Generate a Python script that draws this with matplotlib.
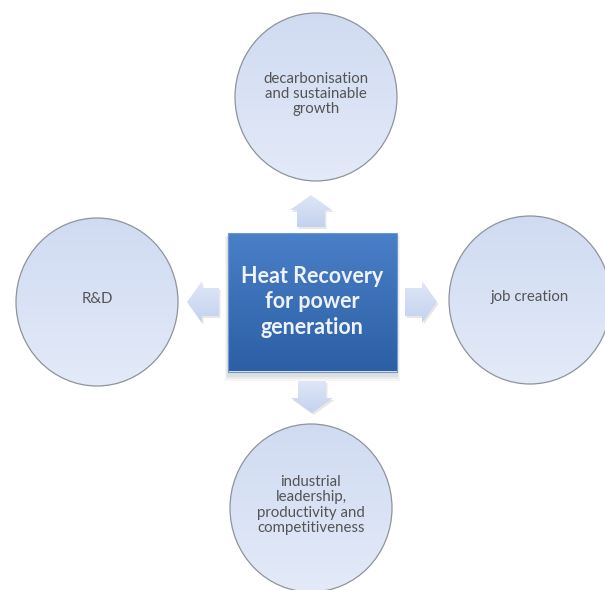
"""
Heat recovery diagram: central box with four linked benefit circles
"""

import numpy as np
import matplotlib
matplotlib.use('Agg')
import matplotlib.pyplot as plt
from matplotlib.patches import Ellipse, Rectangle, Polygon
from matplotlib.colors import LinearSegmentedColormap

# ── Content ────────────────────────────────────────────────────────────────────
center_label = 'Heat Recovery\nfor power\ngeneration'
node_labels = ['decarbonisation\nand sustainable\ngrowth',
               'job creation',
               'industrial\nleadership,\nproductivity and\ncompetitiveness',
               'R&D']
node_dirs = ['up', 'right', 'down', 'left']

# ── Layout (pixels, y downwards) ──────────────────────────────────────────────
W, H = 605, 590
cx, cy = 312, 302
box_w, box_h = 169, 139
circ_off = {'up': (4, -205), 'right': (218, -2), 'down': (-1, 206), 'left': (-215, 0)}
arrow_off = {'up': (-1, -91), 'right': (109, 0), 'down': (0, 95), 'left': (-109, 0)}
rx, ry = 81, 84

fig = plt.figure(figsize=(W / 100, H / 100), dpi=100)
ax = fig.add_axes([0, 0, 1, 1])
ax.set_xlim(0, W)
ax.set_ylim(H, 0)
ax.axis('off')


def grad_fill(patch, c_top, c_bot, y0, y1, x0=0, x1=W, z=1):
    cmap = LinearSegmentedColormap.from_list('g', [c_top, c_bot])
    g = np.linspace(0, 1, 256).reshape(-1, 1)
    im = ax.imshow(g, cmap=cmap, extent=(x0, x1, y1, y0), aspect='auto',
                   zorder=z, interpolation='bicubic')
    im.set_clip_path(patch)


def arrow_poly(x, y, d):
    # block arrow pointing in direction d, centred at (x, y)
    L, Wd, sw, hl = 32, 42, 28, 15   # length, head width, shaft width, head len
    pts = np.array([[-L / 2, -sw / 2], [L / 2 - hl, -sw / 2], [L / 2 - hl, -Wd / 2],
                    [L / 2, 0], [L / 2 - hl, Wd / 2], [L / 2 - hl, sw / 2],
                    [-L / 2, sw / 2]])
    rot = {'right': 0, 'down': 90, 'left': 180, 'up': 270}[d]
    t = np.deg2rad(rot)
    R = np.array([[np.cos(t), -np.sin(t)], [np.sin(t), np.cos(t)]])
    return pts @ R.T + [x, y]


# circles
for lab, d in zip(node_labels, node_dirs):
    ox, oy = circ_off[d]
    x, y = cx + ox, cy + oy
    e = Ellipse((x, y), 2 * rx, 2 * ry, facecolor='none', edgecolor='none')
    ax.add_patch(e)
    grad_fill(e, '#d0dbf2', '#e3eaf8', y - ry, y + ry, x - rx, x + rx, z=1)
    ax.add_patch(Ellipse((x, y), 2 * rx, 2 * ry, facecolor='none',
                         edgecolor='#8f939b', lw=0.9, zorder=2))
    ax.text(x, y - 3, lab, ha='center', va='center', fontsize=10.8,
            family='Lato', color='#545454', linespacing=1.13, zorder=3)

# arrows
for d in node_dirs:
    ox, oy = arrow_off[d]
    pts = arrow_poly(cx + ox, cy + oy, d)
    sh = Polygon(pts + [1.5, 2], closed=True, facecolor='#d8d8d8',
                 edgecolor='none', alpha=0.6, zorder=1)
    ax.add_patch(sh)
    p = Polygon(pts, closed=True, facecolor='none', edgecolor='none')
    ax.add_patch(p)
    grad_fill(p, '#dfe7f7', '#c3d2ef', pts[:, 1].min(), pts[:, 1].max(),
              pts[:, 0].min(), pts[:, 0].max(), z=2)

# centre box with soft shadow
for i, a in enumerate([0.10, 0.08, 0.06]):
    ax.add_patch(Rectangle((cx - box_w / 2 - 1 - i, cy - box_h / 2 + 3),
                           box_w + 2 + 2 * i, box_h + 2 + 2 * i,
                           facecolor='#707070', edgecolor='none', alpha=a, zorder=3))
box = Rectangle((cx - box_w / 2, cy - box_h / 2), box_w, box_h,
                facecolor='none', edgecolor='none')
ax.add_patch(box)
grad_fill(box, '#4a80c8', '#2c5fa5', cy - box_h / 2, cy + box_h / 2,
          cx - box_w / 2, cx + box_w / 2, z=4)
ax.add_patch(Rectangle((cx - box_w / 2, cy - box_h / 2), box_w, box_h,
                       facecolor='none', edgecolor='#6f98d0', lw=0.8, zorder=5))
ax.text(cx, cy, center_label, ha='center', va='center', fontsize=15.5,
        family='Lato', fontweight='bold', color='#eef3fb', linespacing=1.27,
        zorder=6)

plt.savefig('out.png', dpi=100)
